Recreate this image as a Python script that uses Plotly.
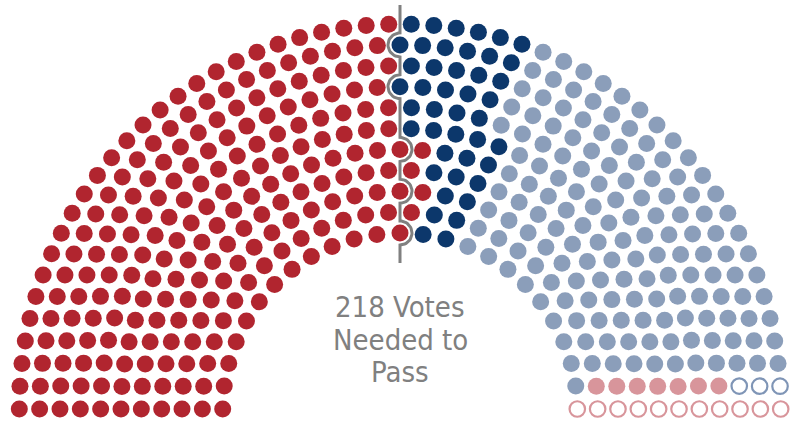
import numpy as np
import plotly.graph_objects as go

# ---------------- data ----------------
# seats per row, from the innermost row to the outermost row
ROW_SEATS = [25, 28, 31, 34, 37, 40, 42, 45, 48, 51, 54]

# seats of each group in every row (inner -> outer), filled left to right in this order
CATEGORIES = ["Republicans: Yes", "Democrats: Yes", "Democrats: No",
              "Republicans: No", "Democrats: Not voting", "Republicans: Not voting"]
R_YES = [13, 15, 17, 18, 20, 20, 21, 22, 24, 25, 27]
D_YES = [2, 2, 2, 3, 3, 5, 4, 5, 5, 6, 6]
D_NO = [9, 9, 10, 11, 12, 13, 15, 16, 17, 18, 19]
R_NO = [0, 1, 1, 1, 1, 1, 1, 1, 0, 0, 0]
D_NV = [0, 0, 0, 0, 0, 0, 0, 0, 1, 1, 1]
R_NV = [1, 1, 1, 1, 1, 1, 1, 1, 1, 1, 1]

VOTES_NEEDED = 218
LABEL_LINES = ["218 Votes", "Needed to", "Pass"]

# ---------------- styles ----------------
STYLE = {
    "Republicans: Yes": dict(color="#B1252F", open=False),
    "Democrats: Yes": dict(color="#0C376B", open=False),
    "Democrats: No": dict(color="#8B9EBA", open=False),
    "Republicans: No": dict(color="#D8959B", open=False),
    "Democrats: Not voting": dict(color="#7F95B6", open=True),
    "Republicans: Not voting": dict(color="#D8959B", open=True),
}
RX0, RX_STEP = 177.3, 20.34
RY0, RY_STEP = 176.0, 20.9
DOT = 17

groups = [R_YES, D_YES, D_NO, R_NO, D_NV, R_NV]

# ---------------- layout of seats ----------------
pts = {c: ([], []) for c in CATEGORIES}
centers = []
for i, n in enumerate(ROW_SEATS):
    rx = RX0 + RX_STEP * i
    ry = RY0 + RY_STEP * i
    labels = []
    for c, g in zip(CATEGORIES, groups):
        labels += [c] * g[i]
    assert len(labels) == n
    for j in range(n):
        th = np.pi * (1 - j / (n - 1))
        pts[labels[j]][0].append(rx * np.cos(th))
        pts[labels[j]][1].append(ry * np.sin(th))
    if n % 2 == 1:
        centers.append((i, ry))

# which centre seats fall inside the first VOTES_NEEDED seats
left_count = sum(n // 2 for n in ROW_SEATS)
side = {}
for i, ry in centers:  # inner rows first
    if left_count < VOTES_NEEDED:
        side[i] = 1
        left_count += 1
    else:
        side[i] = -1

# threshold line path
R = 12.0
top_y = RY0 + RY_STEP * (len(ROW_SEATS) - 1) + 19
bot_y = RY0 - 30
lx, ly = [0, ], [top_y]
for i, ry in sorted(centers, key=lambda t: -t[1]):
    s = side[i]
    phis = np.linspace(np.pi / 2, -np.pi / 2, 25)
    for p in phis:
        lx.append(s * R * np.cos(p))
        ly.append(ry + R * np.sin(p))
lx.append(0)
ly.append(bot_y)

fig = go.Figure()
fig.add_trace(go.Scatter(x=lx, y=ly, mode="lines",
                         line=dict(color="#808080", width=3),
                         hoverinfo="skip", showlegend=False))
for c in CATEGORIES:
    st = STYLE[c]
    x, y = pts[c]
    if st["open"]:
        marker = dict(size=DOT - 1.5, symbol="circle-open",
                      line=dict(color=st["color"], width=2.2), color=st["color"])
    else:
        marker = dict(size=DOT, symbol="circle", color=st["color"],
                      line=dict(width=0))
    fig.add_trace(go.Scatter(x=x, y=y, mode="markers", marker=marker,
                             name=c, showlegend=False))

for k, t in enumerate(LABEL_LINES):
    fig.add_annotation(x=0, y=102 - 32.5 * k, text=t, showarrow=False,
                       xanchor="center", yanchor="middle",
                       font=dict(family="DejaVu Sans Condensed, DejaVu Sans",
                                 size=29, color="#808080"))

fig.update_layout(
    width=790, height=422,
    margin=dict(l=0, r=0, t=0, b=0),
    paper_bgcolor="white", plot_bgcolor="white",
    xaxis=dict(range=[-400, 390], visible=False, fixedrange=True),
    yaxis=dict(range=[-13, 409], visible=False, fixedrange=True),
    showlegend=False,
)
fig.write_html("out.html",
               config={"displayModeBar": False},
               post_script="document.body.style.margin='0';"
                           "document.body.style.padding='0';"
                           "document.body.style.overflow='hidden';")
